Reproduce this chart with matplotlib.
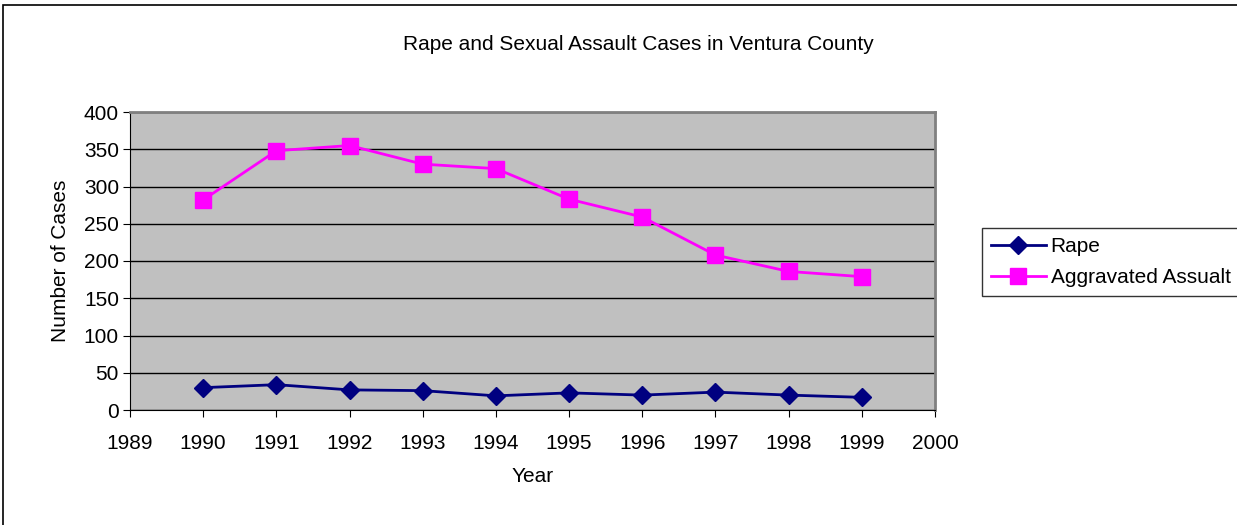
import matplotlib.pyplot as plt
from matplotlib.patches import Rectangle

plt.rcParams['font.family'] = ['Liberation Sans', 'DejaVu Sans']

years = [1990, 1991, 1992, 1993, 1994, 1995, 1996, 1997, 1998, 1999]
rape = [30, 34, 27, 26, 19, 23, 20, 24, 20, 17]
assault = [282, 348, 355, 330, 324, 283, 259, 208, 186, 179]
xticks = list(range(1989, 2001))
yticks = list(range(0, 401, 50))

fs = 15

fig = plt.figure(figsize=(12.37, 5.25), dpi=100)

# outer chart frame (top/left visible)
fig.patches.append(Rectangle((3 / 1237, -0.5), 2.0, 1.5 - 5 / 525, transform=fig.transFigure,
                             fill=False, edgecolor='black', linewidth=1.2))

ax = fig.add_axes([130 / 1237, 1 - 410 / 525, 805 / 1237, 298 / 525])
ax.set_facecolor('#C0C0C0')

ax.plot(years, rape, color='#000080', marker='D', markersize=9, linewidth=2, label='Rape')
ax.plot(years, assault, color='#FF00FF', marker='s', markersize=11, linewidth=2,
        label='Aggravated Assualt')

ax.set_xlim(1989, 2000)
ax.set_ylim(0, 400)
ax.set_xticks(xticks)
ax.set_yticks(yticks)
ax.tick_params(axis='both', labelsize=fs, direction='out', length=5, color='black')
ax.tick_params(axis='x', pad=12)
ax.tick_params(axis='y', pad=3)
ax.yaxis.grid(True, color='black', linewidth=1)
ax.set_axisbelow(True)

for s in ['top', 'right']:
    ax.spines[s].set_color('#808080')
    ax.spines[s].set_linewidth(2)
ax.spines['left'].set_color('black')
ax.spines['bottom'].set_color('black')

ax.set_xlabel('Year', fontsize=fs, labelpad=10)
ax.set_ylabel('Number of Cases', fontsize=fs, labelpad=10)

fig.text(638 / 1237, 1 - 45 / 525, 'Rape and Sexual Assault Cases in Ventura County',
         ha='center', va='center', fontsize=fs)

leg = ax.legend(loc='upper left', bbox_to_anchor=(982 / 1237, 1 - 228 / 525),
                bbox_transform=fig.transFigure, fontsize=fs, frameon=True, fancybox=False,
                handlelength=2.6, handletextpad=0.25, borderpad=0.45, labelspacing=0.55,
                borderaxespad=0)
leg.get_frame().set_edgecolor('black')
leg.get_frame().set_linewidth(1)

fig.savefig('out.png', dpi=100)
